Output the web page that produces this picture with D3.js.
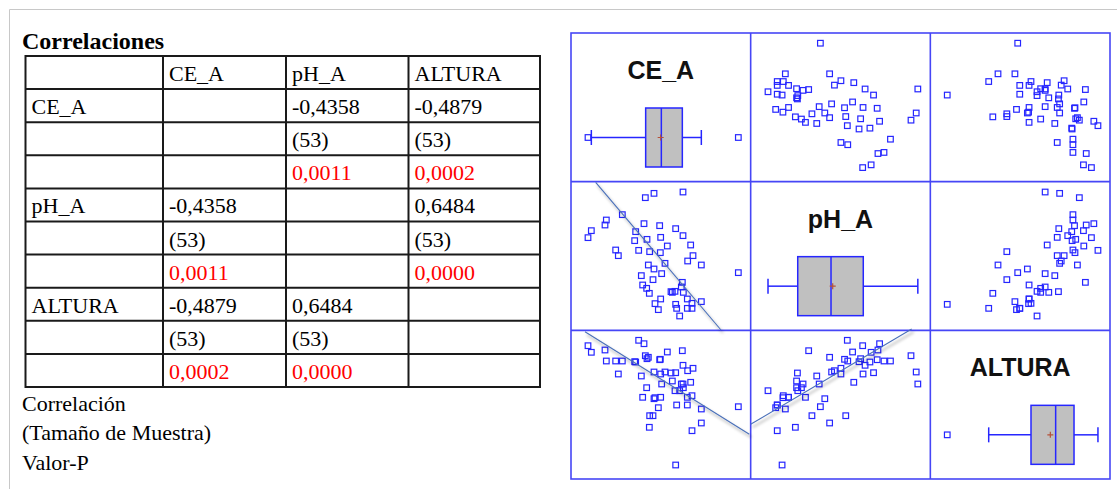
<!DOCTYPE html>
<html>
<head>
<meta charset="utf-8">
<script src="https://cdn.jsdelivr.net/npm/d3@7"></script>
<style>
  html, body { margin: 0; padding: 0; background: #ffffff; }
  svg { display: block; }
</style>
</head>
<body>
<div id="chart"></div>
<script>
// ---------------- DATA ----------------
const variables = ["CE_A", "pH_A", "ALTURA"];

// correlation table (Statgraphics style)
const corrValues = [[null, -0.4358, -0.4879], [-0.4358, null, 0.6484], [-0.4879, 0.6484, null]];
const sampleSizes = [[null, 53, 53], [53, null, 53], [53, 53, null]];
const pValues = [[null, 0.0011, 0.0002], [0.0011, null, 0.0000], [0.0002, 0.0000, null]];
const tableTitle = "Correlaciones";
const legendLines = ["Correlación", "(Tamaño de Muestra)", "Valor-P"];

const CE_A = [0.345,0.395,0.60,0.62,0.76,0.80,0.86,1.045,1.06,1.105,1.145,1.165,1.185,1.205,1.225,1.23,1.25,1.265,1.27,1.32,1.335,1.335,1.35,1.40,1.42,1.43,1.435,1.435,1.45,1.50,1.535,1.59,1.61,1.65,1.66,1.66,1.675,1.72,1.745,1.76,1.77,1.77,1.775,1.835,1.835,1.84,1.885,1.905,1.905,1.92,2.045,2.045,2.60];
const pH_A = [7.747,7.887,8.00,8.10,7.50,7.387,8.207,7.687,7.867,7.493,6.987,6.80,8.027,8.547,6.733,7.713,7.20,6.633,7.467,6.907,8.633,7.12,6.427,6.307,7.987,7.447,7.753,6.52,7.027,7.233,7.58,6.667,6.653,6.673,7.927,6.413,6.333,6.18,6.76,6.853,8.66,7.787,6.653,6.52,6.333,7.28,7.60,6.433,6.333,7.387,7.20,6.467,7.047];
const ALTURA = [179.3,172.7,175.0,164.0,164.0,151.0,164.0,163.3,163.0,184.7,149.0,127.7,181.3,169.3,137.3,166.3,167.7,97.7,109.3,109.3,153.0,126.3,127.3,117.3,165.3,165.7,151.0,127.7,141.0,153.0,173.0,152.0,144.0,134.3,152.3,60.0,120.0,134.3,141.0,174.3,141.0,159.7,137.3,127.7,120.0,154.3,142.7,129.3,94.3,156.7,102.0,116.0,118.3];
const series = [CE_A, pH_A, ALTURA];

// axis ranges of each variable in the matrix
const rangeMin = [0.09, 5.893, 46.0];
const rangeMax = [2.785, 8.867, 194.67];

// box-and-whisker statistics per variable
const whiskerLow = [0.395, 6.18, 94.3];
const boxQ1 = [1.21, 6.672, 129.3];
const boxMedian = [1.445, 7.223, 149.7];
const boxMean = [1.435, 7.251, 145.3];
const boxQ3 = [1.76, 7.757, 164.9];
const whiskerHigh = [2.045, 8.66, 184.7];

// hand-drawn trend lines: [row, col], from (x1,y1) to (x2,y2) in data units
const trendCells = [[1, 0], [2, 0], [2, 1]];
const trendFrom = [[0.46, 8.853], [0.30, 193.3], [5.893, 100.67]];
const trendTo = [[2.34, 5.90], [2.765, 90.7], [8.558, 196.0]];

// ---------------- DRAW ----------------
const W = 1117, H = 489;
const svg = d3.select("#chart").append("svg").attr("width", W).attr("height", H);

const defs = svg.append("defs");
const f = defs.append("filter").attr("id", "shadow").attr("x", "-20%").attr("y", "-20%").attr("width", "140%").attr("height", "140%");
f.append("feDropShadow").attr("dx", 2).attr("dy", 3).attr("stdDeviation", 1.6)
  .attr("flood-color", "#000").attr("flood-opacity", 0.4);

// outer light frame
svg.append("line").attr("x1", 9.5).attr("x2", W).attr("y1", 9.5).attr("y2", 9.5)
  .attr("stroke", "#c8c8c8").attr("stroke-width", 1);
svg.append("line").attr("x1", 9.5).attr("x2", 9.5).attr("y1", 9.5).attr("y2", H)
  .attr("stroke", "#c8c8c8").attr("stroke-width", 1);

// ---------- correlation table ----------
const locale = d3.formatLocale({decimal: ",", thousands: ".", grouping: [3], currency: ["", ""], minus: "-"});
const fmt4 = locale.format(".4f");
const serif = "'Liberation Serif', 'Times New Roman', serif";

const colEdges = [25.5, 163, 286, 408.5, 540];
const tableTop = 56, rowH = 33.1, nRows = 10;
const rowY = d3.scaleLinear().domain([0, nRows]).range([tableTop, tableTop + nRows * rowH]);

const tg = svg.append("g");
tg.append("text").attr("x", 22).attr("y", 49).attr("font-family", serif)
  .attr("font-size", 24).attr("font-weight", "bold").attr("fill", "#000").text(tableTitle);

// build cell contents
const cells = [];
variables.forEach((v, j) => cells.push({r: 0, c: j + 1, t: v, color: "#000"}));
variables.forEach((rv, i) => {
  const base = 1 + i * 3;
  cells.push({r: base, c: 0, t: rv, color: "#000"});
  variables.forEach((cv, j) => {
    if (corrValues[i][j] === null) return;
    cells.push({r: base, c: j + 1, t: fmt4(corrValues[i][j]), color: "#000"});
    cells.push({r: base + 1, c: j + 1, t: "(" + sampleSizes[i][j] + ")", color: "#000"});
    cells.push({r: base + 2, c: j + 1, t: fmt4(pValues[i][j]), color: "#ff0000"});
  });
});
tg.selectAll("text.cell").data(cells).enter().append("text").attr("class", "cell")
  .attr("x", d => colEdges[d.c] + 6)
  .attr("y", d => rowY(d.r) + 25)
  .attr("font-family", serif).attr("font-size", 22)
  .attr("fill", d => d.color).text(d => d.t);

// grid lines
d3.range(nRows + 1).forEach(r => {
  tg.append("line").attr("x1", colEdges[0]).attr("x2", colEdges[4])
    .attr("y1", rowY(r)).attr("y2", rowY(r)).attr("stroke", "#1a1a1a").attr("stroke-width", 2);
});
colEdges.forEach(x => {
  tg.append("line").attr("x1", x).attr("x2", x).attr("y1", rowY(0) - 1).attr("y2", rowY(nRows) + 1)
    .attr("stroke", "#1a1a1a").attr("stroke-width", 2);
});

legendLines.forEach((t, k) => {
  tg.append("text").attr("x", 22).attr("y", 411 + k * 29.3).attr("font-family", serif)
    .attr("font-size", 22).attr("fill", "#000").text(t);
});

// ---------- scatterplot matrix ----------
const mx0 = 571, my0 = 33, mx1 = 1110, my1 = 479;
const cw = (mx1 - mx0) / 3, ch = (my1 - my0) / 3;
const xs = variables.map((v, j) => d3.scaleLinear().domain([rangeMin[j], rangeMax[j]]).range([mx0 + j * cw, mx0 + (j + 1) * cw]));
const ys = variables.map((v, i) => d3.scaleLinear().domain([rangeMin[i], rangeMax[i]]).range([my0 + (i + 1) * ch, my0 + i * ch]));

const blue = "#2626ff";
const mg = svg.append("g");
const sq = 5.6;

// points in off-diagonal cells
for (let i = 0; i < 3; i++) {
  for (let j = 0; j < 3; j++) {
    if (i === j) continue;
    const pts = series[j].map((xv, k) => [xv, series[i][k]]);
    mg.append("g").selectAll("rect").data(pts).enter().append("rect")
      .attr("x", d => xs[j](d[0]) - sq / 2).attr("y", d => ys[i](d[1]) - sq / 2)
      .attr("width", sq).attr("height", sq)
      .attr("fill", "none").attr("stroke", blue).attr("stroke-width", 1.2);
  }
}

// diagonal: labels + box plots
variables.forEach((v, k) => {
  const cx = mx0 + k * cw + cw / 2;
  const top = my0 + k * ch;
  mg.append("text").attr("x", cx).attr("y", top + 46).attr("text-anchor", "middle")
    .attr("font-family", "'Liberation Sans', Arial, sans-serif").attr("font-weight", "bold")
    .attr("font-size", 25).attr("fill", "#111").text(v);

  const x = xs[k];
  const yc = top + 104.5, hh = 29.5, capH = 7.5;
  const g = mg.append("g").attr("stroke", blue).attr("stroke-width", 1.5);
  g.append("line").attr("x1", x(whiskerLow[k])).attr("x2", x(boxQ1[k])).attr("y1", yc).attr("y2", yc);
  g.append("line").attr("x1", x(boxQ3[k])).attr("x2", x(whiskerHigh[k])).attr("y1", yc).attr("y2", yc);
  g.append("line").attr("x1", x(whiskerLow[k])).attr("x2", x(whiskerLow[k])).attr("y1", yc - capH).attr("y2", yc + capH);
  g.append("line").attr("x1", x(whiskerHigh[k])).attr("x2", x(whiskerHigh[k])).attr("y1", yc - capH).attr("y2", yc + capH);
  g.append("rect").attr("x", x(boxQ1[k])).attr("y", yc - hh)
    .attr("width", x(boxQ3[k]) - x(boxQ1[k])).attr("height", 2 * hh).attr("fill", "#c0c0c0");
  g.append("line").attr("x1", x(boxMedian[k])).attr("x2", x(boxMedian[k])).attr("y1", yc - hh).attr("y2", yc + hh);
  // mean marker
  const mxp = x(boxMean[k]);
  mg.append("path").attr("d", `M${mxp - 3},${yc}H${mxp + 3}M${mxp},${yc - 3}V${yc + 3}`)
    .attr("stroke", "#b5523a").attr("stroke-width", 1.2).attr("fill", "none");
  // outside points
  const outs = series[k].filter(vv => vv < whiskerLow[k] - 1e-9 || vv > whiskerHigh[k] + 1e-9);
  mg.append("g").selectAll("rect").data(outs).enter().append("rect")
    .attr("x", d => x(d) - sq / 2).attr("y", yc - sq / 2).attr("width", sq).attr("height", sq)
    .attr("fill", "none").attr("stroke", blue).attr("stroke-width", 1.2);
});

// matrix grid
const gridG = mg.append("g").attr("stroke", "#4646f6").attr("stroke-width", 1.6).attr("fill", "none");
gridG.append("rect").attr("x", mx0).attr("y", my0).attr("width", mx1 - mx0).attr("height", my1 - my0);
[1, 2].forEach(k => {
  gridG.append("line").attr("x1", mx0 + k * cw).attr("x2", mx0 + k * cw).attr("y1", my0).attr("y2", my1);
  gridG.append("line").attr("x1", mx0).attr("x2", mx1).attr("y1", my0 + k * ch).attr("y2", my0 + k * ch);
});

// hand-drawn trend lines with shadow
trendCells.forEach(([r, c], k) => {
  mg.append("line")
    .attr("x1", xs[c](trendFrom[k][0])).attr("y1", ys[r](trendFrom[k][1]))
    .attr("x2", xs[c](trendTo[k][0])).attr("y2", ys[r](trendTo[k][1]))
    .attr("stroke", "#4a70b8").attr("stroke-width", 1.1).attr("filter", "url(#shadow)");
});
</script>
</body>
</html>
